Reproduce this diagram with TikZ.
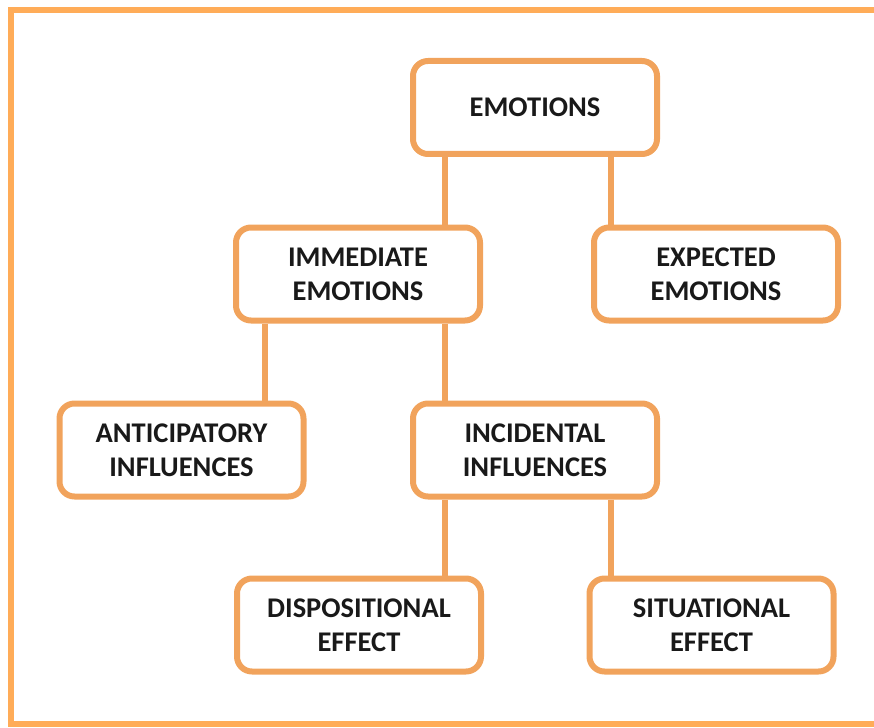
\documentclass[tikz,border=0pt]{standalone}
\usepackage{fontspec}
\setmainfont{Carlito}
\definecolor{boxorange}{RGB}{241,163,92}
\definecolor{frameorange}{RGB}{255,172,88}
\tikzset{
  box/.style={draw=boxorange,line width=6pt,rounded corners=15pt,
    minimum width=244pt,minimum height=93pt,align=center,
    font=\fontsize{28.5}{34}\selectfont\bfseries,text=black!90},
  link/.style={draw=boxorange,line width=6pt}
}
\begin{document}
\begin{tikzpicture}[x=1pt,y=-1pt]
        \useasboundingbox (0,0) rectangle (874,727);
        \draw[frameorange,line width=6pt] (890,10) -- (10.5,10) -- (10.5,724) -- (890,724);
        \node[box] at (535,107.5) (emo) {EMOTIONS};
        \node[box] at (358,274) (imm) {IMMEDIATE\\EMOTIONS};
        \node[box] at (716,274) (exp) {EXPECTED\\EMOTIONS};
        \node[box] at (181.5,450) (ant) {ANTICIPATORY\\INFLUENCES};
        \node[box] at (535,450) (inc) {INCIDENTAL\\INFLUENCES};
        \node[box] at (359,625) (dis) {DISPOSITIONAL\\EFFECT};
        \node[box] at (711.5,625) (sit) {SITUATIONAL\\EFFECT};
        \draw[link] ([xshift=-90pt]emo.south) -- ([xshift=-90pt]emo.south |- imm.north);
        \draw[link] ([xshift=76pt]emo.south) -- ([xshift=76pt]emo.south |- exp.north);
        \draw[link] ([xshift=-93pt]imm.south) -- ([xshift=-93pt]imm.south |- ant.north);
        \draw[link] ([xshift=87pt]imm.south) -- ([xshift=87pt]imm.south |- inc.north);
        \draw[link] ([xshift=-90pt]inc.south) -- ([xshift=-90pt]inc.south |- dis.north);
        \draw[link] ([xshift=76pt]inc.south) -- ([xshift=76pt]inc.south |- sit.north);
    \end{tikzpicture}
\end{document}
